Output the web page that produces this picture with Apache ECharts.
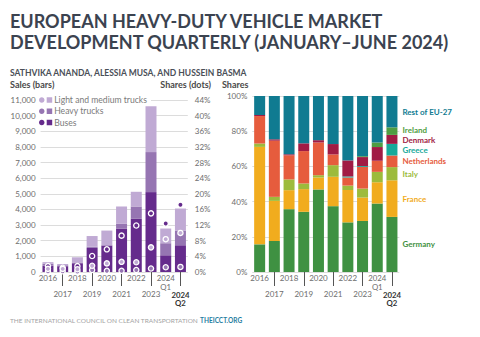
<!DOCTYPE html>
<html>
<head>
<meta charset="utf-8">
<script src="https://cdn.jsdelivr.net/npm/echarts@6/dist/echarts.min.js"></script>
<style>
html,body{margin:0;padding:0;background:#fff;}
#chart{width:480px;height:337px;}
</style>
</head>
<body>
<div id="chart"></div>
<script>
// ---- Data ----
const periods = ['2016','2017','2018','2019','2020','2021','2022','2023','2024 Q1','2024 Q2'];

// Sales (bars), stacked bottom -> top
const busSales   = [400, 370, 560, 1540, 1690, 2780, 3400, 5110, 1070, 1710];
const heavySales = [130,  60,  50,   80,   30,  300,  790, 2560,  770,  920];
const lightSales = [100,  80, 330,  680,  930, 1110,  940, 2930,  940, 1430];

// Shares (dots), percent
const busShare   = [1.5, 1.1, 1.5, 4.1, 5.8, 9.3, 11.9, 15.0, 12.4, 17.2];
const lightShare = [0.8, 0.8, 0.7, 1.6, 2.2, 2.6,  2.5,  6.3,  8.4, 10.0];
const heavyShare = [0.2, 0.2, 0.1, 0.5, 0.3, 0.3,  0.5,  0.9,  1.2,  1.3];

const salesTicks = [0, 11000, 1000];   // min, max, interval
const shareTicks = [0, 44, 4];

// Country shares (percent), stacked bottom -> top
const germany     = [15.7, 17.6, 35.7, 34.2, 46.9, 37.4, 28.2, 29.0, 38.9, 31.3];
const france      = [55.4, 22.8, 10.8, 12.9,  6.8, 16.7, 18.4, 13.3, 12.1, 20.8];
const italy       = [ 1.9,  2.3,  6.1,  3.2,  1.3,  6.6,  2.5,  5.1,  5.9,  7.5];
const netherlands = [15.6, 31.9, 13.7, 18.4, 18.6,  6.1,  4.6, 12.3,  6.3,  6.6];
const greece      = [ 0,    0,    0,    0,    0,    0,    0.6,  0.5,  0,    6.6];
const denmark     = [ 0.6,  0.8,  0.6,  4.4,  1.3,  5.9,  9.1,  5.1,  7.8,  5.1];
const ireland     = [ 0,    0,    0,    0,    0,    0,    0,    0.5,  2.6,  4.3];
const restEU      = [10.8, 24.6, 33.1, 26.9, 25.1, 27.3, 36.6, 34.2, 26.4, 17.8];

const countryNames = ['Germany','France','Italy','Netherlands','Greece','Denmark','Ireland','Rest of EU-27'];
const countryData  = [germany, france, italy, netherlands, greece, denmark, ireland, restEU];
const countryColors = ['#3f9142','#f1ac1e','#9dbb3c','#e65c3d','#17a99a','#a11b44','#4f9d42','#107b91'];

const salesNames = ['Buses','Heavy trucks','Light and medium trucks'];
const salesColors = ['#652b8c','#9675b2','#c0aad4'];

// ---- Chart ----
const chart = echarts.init(document.getElementById('chart'), null, {renderer:'svg'});
const FONT = 'Lato, "Open Sans", sans-serif';
const labelGray = '#6d6d6d';

function xLabelFmt(value, index){
  if (value === '2024 Q1') return '{q|2024}\n{q|Q1}';
  if (value === '2024 Q2') return '\n\n{b|2024}\n{b|Q2}';
  if (index % 2 === 1) return '\n\n' + value;
  return value;
}
function makeXAxis(gridIndex){
  return {
    type:'category', gridIndex, data: periods,
    axisLine:{show:false},
    axisTick:{show:true, alignWithLabel:true, length:14, interval:(i)=> i % 2 === 1,
      lineStyle:{color:'#555', width:1}},
    axisLabel:{interval:0, margin:2, fontFamily:FONT, fontSize:8, color:labelGray, lineHeight:8.1,
      formatter:xLabelFmt,
      rich:{
        q:{fontFamily:FONT, fontSize:7.8, color:labelGray, lineHeight:8.6},
        b:{fontFamily:FONT, fontSize:7.8, fontWeight:'bold', color:'#333', lineHeight:8.6}}}
  };
}

const series = [];
const salesVals = [busSales, heavySales, lightSales];
salesVals.forEach((arr, k)=>{
  series.push({type:'bar', name:salesNames[k], xAxisIndex:0, yAxisIndex:0, stack:'sales',
    data:arr, barWidth:11, itemStyle:{color:salesColors[k]}, z:3});
});
const shareVals = [busShare, heavyShare, lightShare];
shareVals.forEach((arr, k)=>{
  series.push({type:'scatter', name:salesNames[k], xAxisIndex:0, yAxisIndex:1,
    data:arr, symbolSize:5.2, itemStyle:{color:salesColors[k], borderColor:'#fff', borderWidth:1.3, opacity:1}, z:5});
});
const labelNudge = {'Ireland':[0,-1], 'Denmark':[0,0.6]};
countryData.forEach((arr, k)=>{
  const last = arr.length - 1;
  const name = countryNames[k];
  series.push({type:'bar', name:name, xAxisIndex:1, yAxisIndex:2, stack:'country',
    barWidth:11, itemStyle:{color:countryColors[k]},
    label:{show:false, position:'right', distance:5, formatter:'{a}', fontFamily:FONT, fontSize:8,
      lineHeight:8, fontWeight:'bold', color:countryColors[k], offset: labelNudge[name] || [0,0]},
    data: arr.map((v,i)=> i === last ? {value:v, label:{show:true}} : v)});
});

const iconPath = 'path://M0,2.75C0,1.23 1.23,0 2.75,0C4.27,0 5.5,1.23 5.5,2.75C5.5,4.27 4.27,5.5 2.75,5.5C1.23,5.5 0,4.27 0,2.75Z M7.7,0L13.2,0L13.2,5.5L7.7,5.5Z';

chart.setOption({
  animation:false,
  backgroundColor:'#fff',
  grid:[
    {left:40.6, top:100, width:147.2, height:172, outerBoundsMode:'none', containLabel:false},
    {left:252.3, top:96, width:147, height:176, outerBoundsMode:'none', containLabel:false}
  ],
  legend:{
    data:['Light and medium trucks','Heavy trucks','Buses'], z:1,
    orient:'vertical', left:39, top:94, padding:[1,4,1,0], backgroundColor:'#fff',
    icon:iconPath, itemWidth:13.2, itemHeight:5.5, itemGap:1.3, selectedMode:false,
    textStyle:{fontFamily:FONT, fontSize:8.6, color:'#7a7a7a', lineHeight:10, padding:[0,0,0,-3]}
  },
  xAxis:[makeXAxis(0), makeXAxis(1)],
  yAxis:[
    {type:'value', gridIndex:0, min:salesTicks[0], max:salesTicks[1], interval:salesTicks[2],
      axisLine:{show:false}, axisTick:{show:false},
      axisLabel:{margin:5, fontFamily:FONT, fontSize:8, color:labelGray,
        formatter:(v)=> v.toLocaleString('en-US')},
      splitLine:{lineStyle:{color:'#dcdcdc', width:1}}},
    {type:'value', gridIndex:0, position:'right', min:shareTicks[0], max:shareTicks[1], interval:shareTicks[2],
      axisLine:{show:false}, axisTick:{show:false}, splitLine:{show:false},
      axisLabel:{margin:7, fontFamily:FONT, fontSize:8, color:labelGray, formatter:'{value}%'}},
    {type:'value', gridIndex:1, min:0, max:100, interval:20,
      axisLine:{show:false}, axisTick:{show:false},
      axisLabel:{margin:5, fontFamily:FONT, fontSize:8, color:labelGray, formatter:'{value}%'},
      splitLine:{lineStyle:{color:'#dcdcdc', width:1}}}
  ],
  series: series,
  graphic:[
    {type:'text', x:10, y:21, style:{text:'EUROPEAN HEAVY-DUTY VEHICLE MARKET', font:'bold 18px '+FONT, fill:'#3b4350', textVerticalAlign:'middle'}},
    {type:'text', x:10, y:42, style:{text:'DEVELOPMENT QUARTERLY (JANUARY–JUNE 2024)', font:'bold 18px '+FONT, fill:'#3b4350', textVerticalAlign:'middle'}},
    {type:'text', x:10, y:72.5, style:{text:'SATHVIKA ANANDA, ALESSIA MUSA, AND HUSSEIN BASMA', font:'bold 8.5px '+FONT, fill:'#4a4f57', textVerticalAlign:'middle'}},
    {type:'text', x:10, y:84.5, style:{text:'Sales (bars)', font:'bold 9px '+FONT, fill:'#4a4a4a', textVerticalAlign:'middle'}},
    {type:'text', x:211, y:84.5, style:{text:'Shares (dots)', font:'bold 9px '+FONT, fill:'#4a4a4a', textAlign:'right', textVerticalAlign:'middle'}},
    {type:'text', x:222, y:84.5, style:{text:'Shares', font:'bold 9px '+FONT, fill:'#4a4a4a', textVerticalAlign:'middle'}},
    {type:'text', x:10, y:320, style:{text:'THE INTERNATIONAL COUNCIL ON CLEAN TRANSPORTATION {b|THEICCT.ORG}',
      font:'6.5px '+FONT, fill:'#a3a3a3', textVerticalAlign:'middle',
      rich:{b:{font:'bold 6.5px '+FONT, fill:'#1f7ea1'}}}}
  ]
});
</script>
</body>
</html>
